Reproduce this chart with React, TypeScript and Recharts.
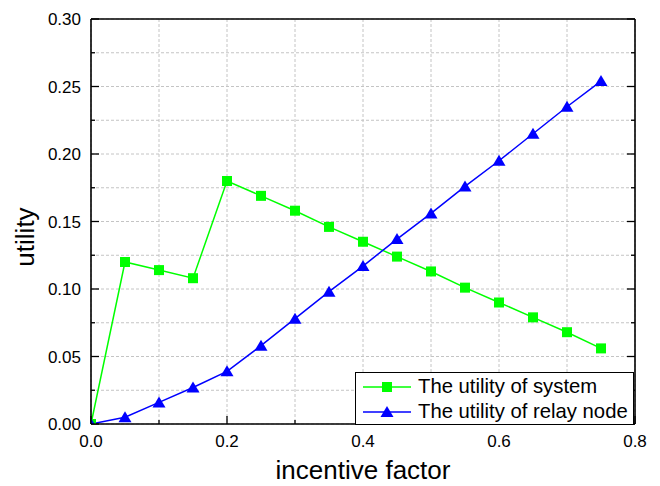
import { LineChart, Line, XAxis, YAxis, CartesianGrid } from 'recharts'

const incentiveFactor = [0, 0.05, 0.1, 0.15, 0.2, 0.25, 0.3, 0.35, 0.4, 0.45, 0.5, 0.55, 0.6, 0.65, 0.7, 0.75]
const systemUtility = [0, 0.12, 0.114, 0.108, 0.18, 0.169, 0.158, 0.146, 0.135, 0.124, 0.113, 0.101, 0.09, 0.079, 0.068, 0.056]
const relayUtility = [0, 0.005, 0.016, 0.027, 0.039, 0.058, 0.078, 0.098, 0.117, 0.137, 0.156, 0.176, 0.195, 0.215, 0.235, 0.254]

const xTicks = [0, 0.1, 0.2, 0.3, 0.4, 0.5, 0.6, 0.7, 0.8]
const yTicks = [0, 0.025, 0.05, 0.075, 0.1, 0.125, 0.15, 0.175, 0.2, 0.225, 0.25, 0.275, 0.3]

const GREEN = '#00ff00'
const BLUE = '#0000ff'
const FONT = 'Arial, "Liberation Sans", sans-serif'

const data = incentiveFactor.map((x, i) => ({
  x,
  system: systemUtility[i],
  relay: relayUtility[i],
}))

// major ticks: every 0.2 on x, every 0.05 on y
const isMajorX = (v: number) => Math.abs(v * 5 - Math.round(v * 5)) < 1e-6
const isMajorY = (v: number) => Math.abs(v * 20 - Math.round(v * 20)) < 1e-6

const BottomTick = ({ x, y, payload }: any) => {
  const major = isMajorX(payload.value)
  return (
    <g>
      <line x1={x} x2={x} y1={y} y2={y - (major ? 8 : 4)} stroke="#000" strokeWidth={1.3} />
      {major && (
        <text x={x} y={y + 23} textAnchor="middle" fontSize={17} fontFamily={FONT} fill="#000">
          {payload.value.toFixed(1)}
        </text>
      )}
    </g>
  )
}

const LeftTick = ({ x, y, payload }: any) => {
  const major = isMajorY(payload.value)
  return (
    <g>
      <line x1={x} x2={x + (major ? 8 : 4)} y1={y} y2={y} stroke="#000" strokeWidth={1.3} />
      {major && (
        <text x={x - 10} y={y + 6} textAnchor="end" fontSize={17} fontFamily={FONT} fill="#000">
          {payload.value.toFixed(2)}
        </text>
      )}
    </g>
  )
}

const RightTick = ({ x, y, payload }: any) => {
  const major = isMajorY(payload.value)
  return <line x1={x} x2={x - (major ? 8 : 4)} y1={y} y2={y} stroke="#000" strokeWidth={1.3} />
}

const SquareDot = ({ cx, cy, index }: any) => (
  <rect key={`s-${index}`} x={cx - 5} y={cy - 5} width={10} height={10} fill={GREEN} />
)

const TriangleDot = ({ cx, cy, index }: any) => (
  <polygon
    key={`t-${index}`}
    points={`${cx},${cy - 6} ${cx - 6.5},${cy + 5} ${cx + 6.5},${cy + 5}`}
    fill={BLUE}
  />
)

const legendItems = [
  { label: 'The utility of system', color: GREEN, shape: 'square' },
  { label: 'The utility of relay node', color: BLUE, shape: 'triangle' },
]

const LegendBox = () => (
  <div
    style={{
      position: 'absolute',
      left: 355,
      top: 372,
      border: '1.5px solid #000',
      background: '#fff',
      boxSizing: 'border-box',
      width: 279,
      height: 53,
      paddingTop: 1,
      fontFamily: FONT,
      fontSize: 20.3,
      color: '#000',
    }}
  >
    {legendItems.map((item) => (
      <div key={item.label} style={{ display: 'flex', alignItems: 'center', height: 25 }}>
        <svg width={62} height={20} style={{ flexShrink: 0 }}>
          <line x1={7} x2={55} y1={10} y2={10} stroke={item.color} strokeWidth={1.5} />
          {item.shape === 'square' ? (
            <rect x={26} y={5} width={10} height={10} fill={item.color} />
          ) : (
            <polygon points="31,4 24.5,15 37.5,15" fill={item.color} />
          )}
        </svg>
        <span style={{ whiteSpace: 'nowrap', lineHeight: '25px' }}>{item.label}</span>
      </div>
    ))}
  </div>
)

export default function App() {
  return (
    <div style={{ position: 'absolute', left: 0, top: 0, width: 660, height: 486, background: '#fff' }}>
      <LineChart width={660} height={486} data={data} margin={{ top: 18, right: 24, bottom: 32, left: 31 }}>
        <CartesianGrid stroke="#c4c4c4" strokeDasharray="3 2" strokeWidth={1} />
        <XAxis
          dataKey="x"
          type="number"
          domain={[0, 0.8]}
          ticks={xTicks}
          interval={0}
          height={30}
          tickSize={0}
          tickMargin={0}
          tickLine={false}
          tick={<BottomTick />}
          axisLine={{ stroke: '#000', strokeWidth: 1.6 }}
          allowDataOverflow
          label={{ value: 'incentive factor', position: 'bottom', offset: 7, fontSize: 26, fontFamily: FONT, fill: '#000' }}
        />
        <XAxis
          xAxisId="top"
          orientation="top"
          type="number"
          domain={[0, 0.8]}
          height={1}
          tick={false}
          tickLine={false}
          axisLine={{ stroke: '#000', strokeWidth: 1.6 }}
          allowDataOverflow
        />
        <YAxis
          type="number"
          domain={[0, 0.3]}
          ticks={yTicks}
          interval={0}
          width={60}
          tickSize={0}
          tickMargin={0}
          tickLine={false}
          tick={<LeftTick />}
          axisLine={{ stroke: '#000', strokeWidth: 1.6 }}
          allowDataOverflow
          label={{
            content: ({ viewBox }: any) => {
              const cx = viewBox.x + 3
              const cy = 237
              return (
                <text
                  x={cx}
                  y={cy}
                  transform={`rotate(-90 ${cx} ${cy})`}
                  textAnchor="middle"
                  fontSize={26}
                  fontFamily={FONT}
                  fill="#000"
                >
                  utility
                </text>
              )
            },
          }}
        />
        <YAxis
          yAxisId="right"
          orientation="right"
          type="number"
          domain={[0, 0.3]}
          ticks={yTicks}
          interval={0}
          width={1}
          tickSize={0}
          tickMargin={0}
          tickLine={false}
          tick={<RightTick />}
          axisLine={{ stroke: '#000', strokeWidth: 1.6 }}
          allowDataOverflow
        />
        <Line
          dataKey="system"
          name="The utility of system"
          stroke={GREEN}
          strokeWidth={1.5}
          dot={SquareDot}
          activeDot={false}
          isAnimationActive={false}
        />
        <Line
          dataKey="relay"
          name="The utility of relay node"
          stroke={BLUE}
          strokeWidth={1.5}
          dot={TriangleDot}
          activeDot={false}
          isAnimationActive={false}
        />
      </LineChart>
      <LegendBox />
    </div>
  )
}
